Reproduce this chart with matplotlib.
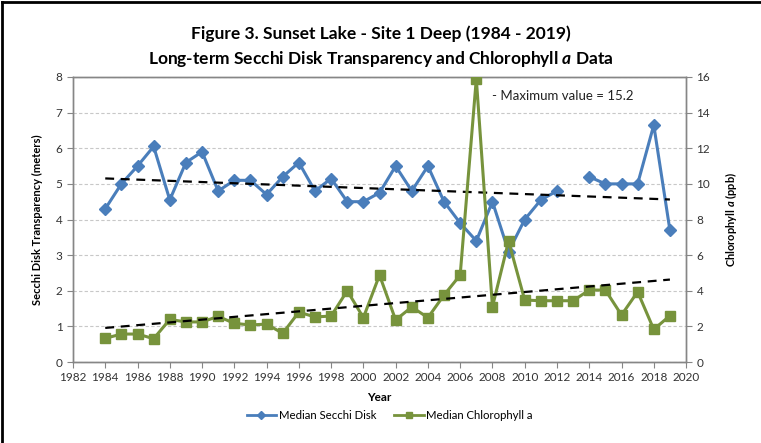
import numpy as np
import matplotlib
matplotlib.use('Agg')
import matplotlib.pyplot as plt
from matplotlib.lines import Line2D

plt.rcParams['font.family'] = ['Lato', 'DejaVu Sans']
plt.rcParams['mathtext.fontset'] = 'custom'
plt.rcParams['mathtext.bfit'] = 'Lato:bold:italic'

# Datos
years = [1984, 1985, 1986, 1987, 1988, 1989, 1990, 1991, 1992, 1993, 1994, 1995,
         1996, 1997, 1998, 1999, 2000, 2001, 2002, 2003, 2004, 2005, 2006, 2007,
         2008, 2009, 2010, 2011, 2012, 2013, 2014, 2015, 2016, 2017, 2018, 2019]
secchi = [4.3, 5.0, 5.5, 6.05, 4.55, 5.6, 5.9, 4.8, 5.1, 5.1, 4.7, 5.2,
          5.6, 4.8, 5.15, 4.5, 4.5, 4.75, 5.5, 4.8, 5.5, 4.5, 3.9, 3.4,
          4.5, 3.1, 4.0, 4.55, 4.8, np.nan, 5.2, 5.0, 5.0, 5.0, 6.65, 3.7]
chla = [1.33, 1.57, 1.57, 1.31, 2.39, 2.25, 2.25, 2.56, 2.17, 2.08, 2.13, 1.61,
        2.8, 2.53, 2.58, 4.0, 2.49, 4.88, 2.36, 3.09, 2.49, 3.76, 4.88, 15.9,
        3.1, 6.79, 3.48, 3.44, 3.44, 3.44, 4.04, 4.04, 2.64, 3.94, 1.83, 2.6]
x_ticks = list(range(1982, 2021, 2))

years = np.array(years)
secchi = np.array(secchi)
chla = np.array(chla)

blue = '#4A7EBB'
green = '#77933C'
gray = '#868686'

fig = plt.figure(figsize=(7.61, 4.43), dpi=100)
ax = fig.add_axes([0.0959, 0.1828, 0.8056, 0.6434])
ax2 = ax.twinx()

ax.plot(years, secchi, color=blue, lw=2.2, marker='D', ms=6.5, zorder=3)
ax2.plot(years, chla, color=green, lw=2.2, marker='s', ms=7.5, zorder=3)

# Lineas de tendencia (regresion lineal)
ok = ~np.isnan(secchi)
p1 = np.polyfit(years[ok], secchi[ok], 1)
p2 = np.polyfit(years, chla, 1)
ends = np.array([years[0], years[-1]])
ax.plot(ends, np.polyval(p1, ends), color='black', ls=(0, (4, 3)), lw=1.6, zorder=4)
ax2.plot(ends, np.polyval(p2, ends), color='black', ls=(0, (4, 3)), lw=1.6, zorder=4)

ax.set_xlim(1982, 2020)
ax.set_ylim(0, 8)
ax2.set_ylim(0, 16)
ax.set_xticks(x_ticks)
ax.set_yticks(range(0, 9))
ax2.set_yticks(range(0, 17, 2))
ax.yaxis.grid(True, color='#C8C8C8', ls=(0, (3, 2)), lw=0.8)
ax.set_axisbelow(True)

for a in (ax, ax2):
    for s in a.spines.values():
        s.set_color(gray)
        s.set_linewidth(1)
    a.tick_params(colors=gray, labelcolor='#333333', labelsize=8.5, direction='out', length=4)

ax.set_xlabel('Year', fontsize=8.5, fontweight='bold', labelpad=6)
ax.set_ylabel('Secchi Disk Transparency (meters)', fontsize=8, fontweight='bold', labelpad=9)
ax2.set_ylabel(r'Chlorophyll $\mathbfit{a}$ (ppb)', fontsize=8, fontweight='bold', labelpad=9)

ax2.text(0.684, 0.955, '- Maximum value = 15.2', transform=ax.transAxes, fontsize=9.5,
         ha='left', va='top', color='#222222')

fig.text(0.5, 0.923, 'Figure 3. Sunset Lake - Site 1 Deep (1984 - 2019)',
         ha='center', va='center', fontsize=12.5, fontweight='bold')
fig.text(0.5, 0.866, r'Long-term Secchi Disk Transparency and Chlorophyll $\mathbfit{a}$ Data',
         ha='center', va='center', fontsize=12.5, fontweight='bold')

handles = [Line2D([], [], color=blue, lw=2, marker='D', ms=4),
           Line2D([], [], color=green, lw=2, marker='s', ms=4.5)]
fig.legend(handles, ['Median Secchi Disk', 'Median Chlorophyll a'], loc='center',
           bbox_to_anchor=(0.512, 0.063), ncol=2, frameon=False, fontsize=8.2,
           handlelength=2.6, handletextpad=0.2, columnspacing=1.6)

# Marco de la figura
fig.add_artist(Line2D([0.003, 0.003], [0, 0.996], color='black', lw=2, transform=fig.transFigure))
fig.add_artist(Line2D([0.003, 1], [0.996, 0.996], color='black', lw=2, transform=fig.transFigure))

fig.savefig('out.png', dpi=100)
